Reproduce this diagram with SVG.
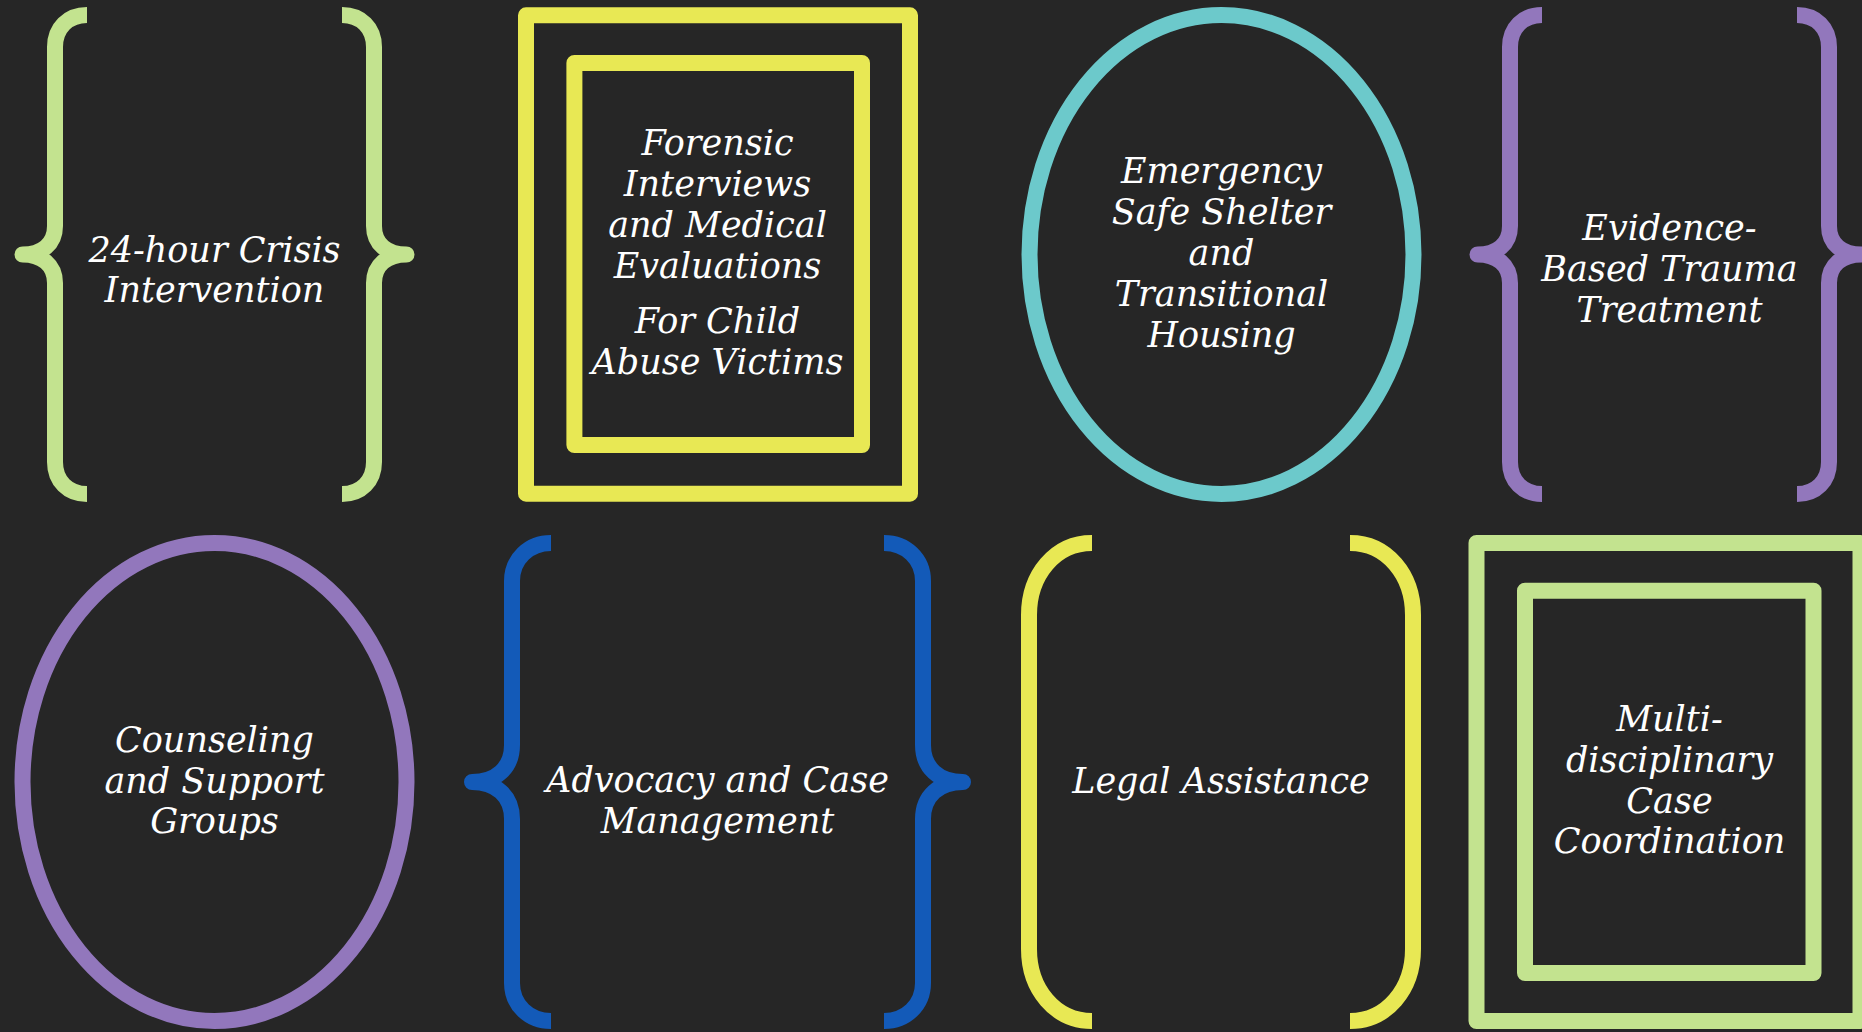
<svg xmlns="http://www.w3.org/2000/svg" width="1862" height="1032" viewBox="0 0 1862 1032">
<style>
.bg{fill:#262626}
.s{fill:none;stroke-width:16;stroke-linejoin:round;stroke-linecap:butt}
.green{stroke:#C3E38F}
.yellow{stroke:#E8E854}
.teal{stroke:#6CC9CB}
.purple{stroke:#9277BC}
.blue{stroke:#135AB8}
text{font-family:"DejaVu Serif","Liberation Serif",serif;font-style:italic;font-size:35px;fill:#FFFFFF;text-anchor:middle}
</style>
<rect class="bg" x="0" y="0" width="1862" height="1032"/>
<g id="connectors"></g>
<g id="node-crisis">
<path class="s green" d="M 87,15 C 68,15 55,28 55,47 L 55,226 C 55,244 42,254.5 22.5,254.5 C 42,254.5 55,265 55,283 L 55,462 C 55,481 68,494 87,494"/>
<path class="s green" d="M 342,15 C 361,15 374,28 374,47 L 374,226 C 374,244 387,254.5 406.5,254.5 C 387,254.5 374,265 374,283 L 374,462 C 374,481 361,494 342,494"/>
<text x="214.5" y="262">24-hour Crisis</text>
<text x="214.5" y="302">Intervention</text>
</g>
<g id="node-forensic">
<rect class="s yellow" x="526" y="15.3" width="384" height="478.4"/>
<rect class="s yellow" x="574.4" y="63" width="287.6" height="382"/>
<text x="717.5" y="155">Forensic</text>
<text x="717.5" y="196">Interviews</text>
<text x="717.5" y="237">and Medical</text>
<text x="717.5" y="278">Evaluations</text>
<text x="717.5" y="333">For Child</text>
<text x="717.5" y="374">Abuse Victims</text>
</g>
<g id="node-shelter">
<ellipse class="s teal" cx="1221.5" cy="254.5" rx="192" ry="239.5"/>
<text x="1221.5" y="183">Emergency</text>
<text x="1221.5" y="224">Safe Shelter</text>
<text x="1221.5" y="265">and</text>
<text x="1221.5" y="306">Transitional</text>
<text x="1221.5" y="347">Housing</text>
</g>
<g id="node-trauma">
<path class="s purple" d="M 1542,15 C 1523,15 1510,28 1510,47 L 1510,226 C 1510,244 1497,254.5 1477.5,254.5 C 1497,254.5 1510,265 1510,283 L 1510,462 C 1510,481 1523,494 1542,494"/>
<path class="s purple" d="M 1797,15 C 1816,15 1829,28 1829,47 L 1829,226 C 1829,244 1842,254.5 1861.5,254.5 C 1842,254.5 1829,265 1829,283 L 1829,462 C 1829,481 1816,494 1797,494"/>
<text x="1669.5" y="240">Evidence-</text>
<text x="1669.5" y="281">Based Trauma</text>
<text x="1669.5" y="322">Treatment</text>
</g>
<g id="node-counseling">
<ellipse class="s purple" cx="214.5" cy="782" rx="192" ry="239"/>
<text x="214.5" y="752">Counseling</text>
<text x="214.5" y="793">and Support</text>
<text x="214.5" y="833">Groups</text>
</g>
<g id="node-advocacy">
<path class="s blue" d="M 551,543 C 529,543 512,559 512,581 L 512,745 C 512,768 496,782 472,782 C 496,782 512,796 512,819 L 512,983 C 512,1005 529,1021 551,1021"/>
<path class="s blue" d="M 884,543 C 906,543 923,559 923,581 L 923,745 C 923,768 939,782 963,782 C 939,782 923,796 923,819 L 923,983 C 923,1005 906,1021 884,1021"/>
<text x="717.5" y="792">Advocacy and Case</text>
<text x="717.5" y="833">Management</text>
</g>
<g id="node-legal">
<path class="s yellow" d="M 1092,543 C 1055,543 1029,575 1029,615 L 1029,949 C 1029,989 1055,1021 1092,1021"/>
<path class="s yellow" d="M 1350,543 C 1387,543 1413,575 1413,615 L 1413,949 C 1413,989 1387,1021 1350,1021"/>
<text x="1221" y="793">Legal Assistance</text>
</g>
<g id="node-coordination">
<rect class="s green" x="1476.5" y="543" width="384" height="478"/>
<rect class="s green" x="1525" y="590.7" width="288.5" height="382.3"/>
<text x="1669.5" y="731">Multi-</text>
<text x="1669.5" y="772">disciplinary</text>
<text x="1669.5" y="813">Case</text>
<text x="1669.5" y="853">Coordination</text>
</g>
</svg>
